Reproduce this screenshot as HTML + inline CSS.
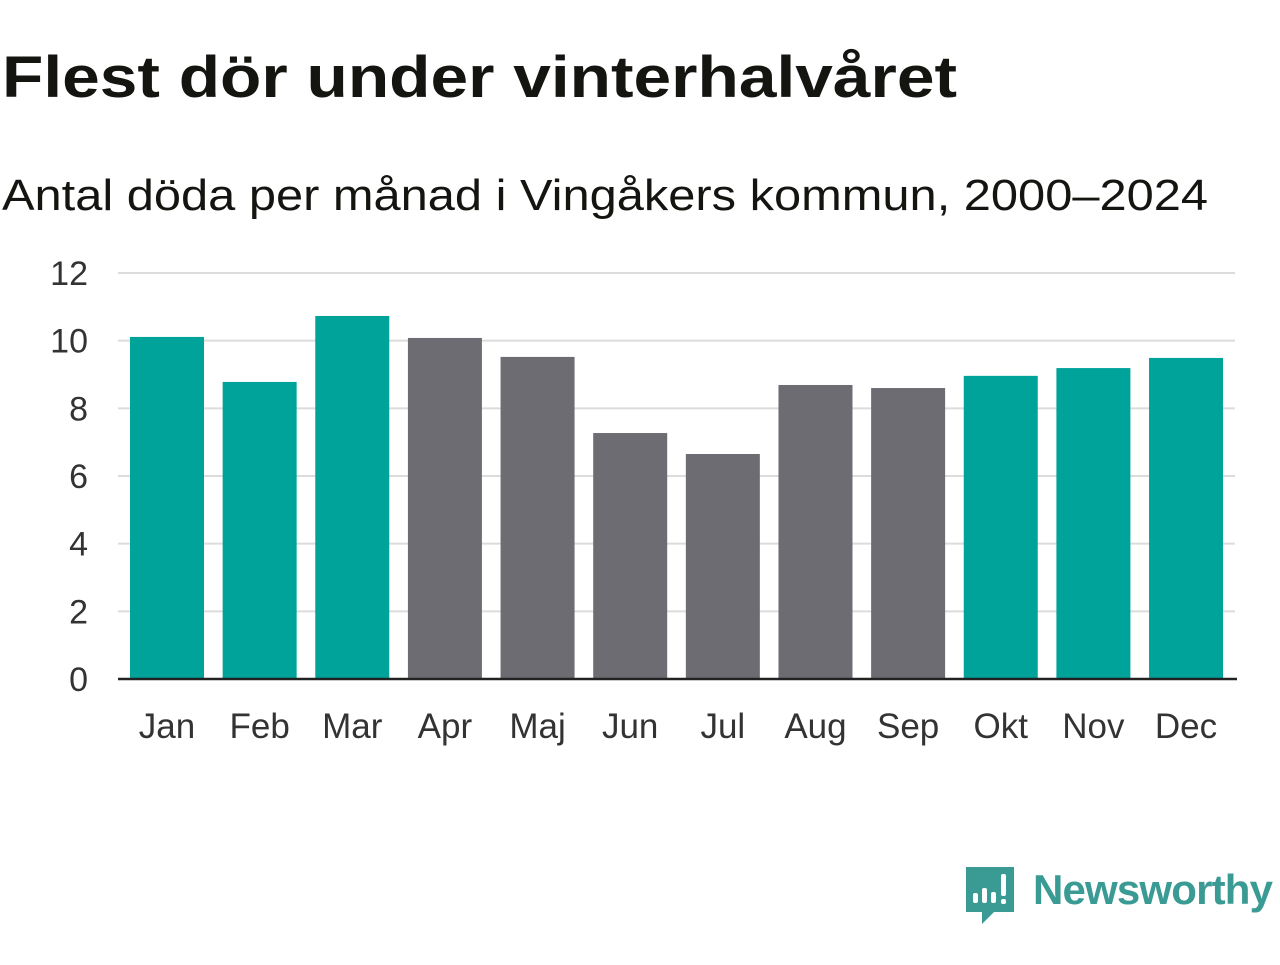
<!DOCTYPE html>
<html><head><meta charset="utf-8">
<style>
body{margin:0;background:#fff;width:1280px;height:960px;overflow:hidden;font-family:"Liberation Sans",sans-serif;}
</style></head>
<body>
<svg id="chart" width="1280" height="960" xmlns="http://www.w3.org/2000/svg">
<text x="2" y="97" font-size="58" font-weight="bold" fill="#141410" font-family="Liberation Sans, sans-serif" textLength="955" lengthAdjust="spacingAndGlyphs">Flest dör under vinterhalvåret</text>
<text x="2" y="210" font-size="44" fill="#141410" font-family="Liberation Sans, sans-serif" textLength="1206" lengthAdjust="spacingAndGlyphs">Antal döda per månad i Vingåkers kommun, 2000–2024</text>
<g id="grid"></g><g id="bars"></g><g id="xlabels"></g>
<g>
<path d="M966 867 h48 v45 h-20 l-12 12 v-12 h-16 z" fill="#3a9a94"/>
<rect x="973" y="893" width="5" height="10" rx="2" fill="#fff"/>
<rect x="982" y="888" width="5" height="15" rx="2" fill="#fff"/>
<rect x="991" y="892" width="5" height="11" rx="2" fill="#fff"/>
<rect x="1001" y="874" width="5" height="22" rx="2" fill="#fff"/>
<rect x="1001" y="899" width="5" height="5" rx="2" fill="#fff"/>
<text x="1033" y="904" font-size="42" font-weight="bold" fill="#3a9a94" font-family="Liberation Sans, sans-serif" textLength="240">Newsworthy</text>
</g>
</svg>
<script>
const months=["Jan","Feb","Mar","Apr","Maj","Jun","Jul","Aug","Sep","Okt","Nov","Dec"];
const deaths=[10.11,8.78,10.73,10.08,9.52,7.27,6.65,8.69,8.6,8.96,9.19,9.49];
const winter=[true,true,true,false,false,false,false,false,false,true,true,true];
const yTicks=[0,2,4,6,8,10,12];
const NS="http://www.w3.org/2000/svg";
const y=v=>679-v*(406/12);
const band=92.64,x0=120;
const x=i=>x0+i*band;
function mk(t,a,p){const e=document.createElementNS(NS,t);for(const k in a)e.setAttribute(k,a[k]);p.appendChild(e);return e;}
const grid=document.getElementById('grid');
yTicks.forEach(t=>{
 if(t>0){const l=mk('line',{x1:118,x2:1235,y1:y(t),y2:y(t),stroke:'#dcdcdc','stroke-width':2},grid);
 
 }
 const tx=mk('text',{x:88,y:y(t)+12,'text-anchor':'end','font-size':34,fill:'#333','font-family':'Liberation Sans, sans-serif'},grid);
 tx.textContent=t;
 
 
});
const bars=document.getElementById('bars');
deaths.forEach((v,i)=>{
 const r=mk('rect',{x:x(i)+10,y:y(v),width:74,height:y(0)-y(v),fill:winter[i]?'#00a39a':'#6d6c72'},bars);
 
 
 const t=mk('text',{x:x(i)+47,y:738,'text-anchor':'middle','font-size':35,fill:'#333','font-family':'Liberation Sans, sans-serif'},document.getElementById('xlabels'));
 t.textContent=months[i];
 
 
});
const ax=mk('line',{x1:118,x2:1237,y1:y(0),y2:y(0),stroke:'#222','stroke-width':2.5},bars);


</script>
</body></html>
